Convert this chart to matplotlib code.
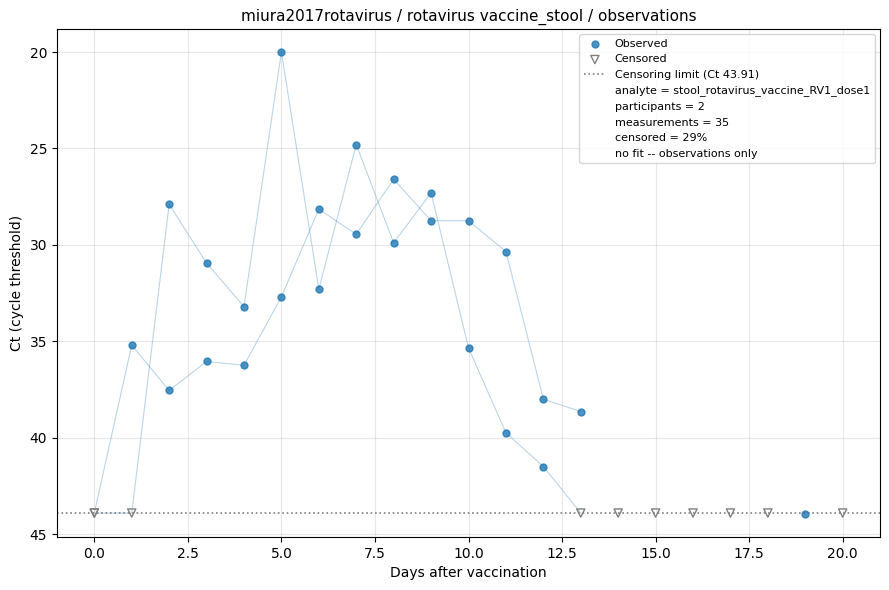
import matplotlib
matplotlib.use("Agg")
import matplotlib.pyplot as plt
from matplotlib.lines import Line2D

# Censoring limit
CT_LIMIT = 43.91

# Participant 1 (days 0-13), None = censored
days_p1 = [0, 1, 2, 3, 4, 5, 6, 7, 8, 9, 10, 11, 12, 13]
ct_p1 = [None, 35.2, 37.55, 36.05, 36.25, 32.7, 28.15, 29.45, 26.6, 28.75, 28.75, 30.35, 38.0, 38.65]

# Participant 2 (days 0-13)
days_p2 = [0, 1, 2, 3, 4, 5, 6, 7, 8, 9, 10, 11, 12, 13]
ct_p2 = [None, None, 27.9, 30.95, 33.2, 20.0, 32.3, 24.8, 29.9, 27.3, 35.35, 39.75, 41.5, None]

# Later samples (not connected)
days_late = [14, 15, 16, 17, 18, 19, 20]
ct_late = [None, None, None, None, None, 43.95, None]


def main():
    fig, ax = plt.subplots(figsize=(8.89, 5.9), dpi=100)

    obs_x, obs_y, cens_x = [], [], []
    for days, ct in [(days_p1, ct_p1), (days_p2, ct_p2)]:
        yy = [CT_LIMIT if v is None else v for v in ct]
        ax.plot(days, yy, color="tab:blue", alpha=0.3, linewidth=0.8, zorder=1)
    for days, ct in [(days_p1, ct_p1), (days_p2, ct_p2), (days_late, ct_late)]:
        for d, v in zip(days, ct):
            if v is None:
                cens_x.append(d)
            else:
                obs_x.append(d)
                obs_y.append(v)

    ax.scatter(obs_x, obs_y, s=25, color="tab:blue", alpha=0.8,
               label="Observed", zorder=3)
    ax.scatter(cens_x, [CT_LIMIT] * len(cens_x), s=35, marker="v",
               facecolors="none", edgecolors="gray", linewidths=1.0,
               label="Censored", zorder=3)
    ax.axhline(CT_LIMIT, color="gray", linestyle=":", linewidth=1.2,
               label=f"Censoring limit (Ct {CT_LIMIT})")

    n_total = sum(len(d) for d in [days_p1, days_p2, days_late])
    pct = round(100 * len(cens_x) / n_total)
    extra = [
        "analyte = stool_rotavirus_vaccine_RV1_dose1",
        "participants = 2",
        f"measurements = {n_total}",
        f"censored = {pct}%",
        "no fit -- observations only",
    ]
    handles, labels = ax.get_legend_handles_labels()
    for t in extra:
        handles.append(Line2D([], [], linestyle="none"))
        labels.append(t)
    ax.legend(handles, labels, loc="upper right", fontsize=8)

    ax.invert_yaxis()
    ax.grid(True, alpha=0.3)
    ax.set_xlabel("Days after vaccination")
    ax.set_ylabel("Ct (cycle threshold)")
    ax.set_title("miura2017rotavirus / rotavirus vaccine_stool / observations", fontsize=11)

    fig.subplots_adjust(left=0.064, right=0.990, top=0.951, bottom=0.090)
    fig.savefig("out.png")


if __name__ == "__main__":
    main()
